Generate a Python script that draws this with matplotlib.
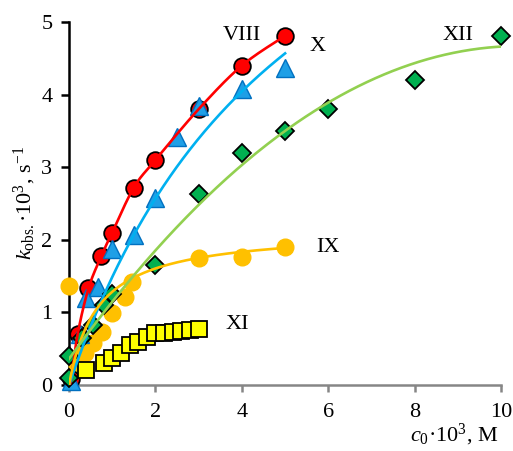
import numpy as np
import matplotlib
matplotlib.use("Agg")
import matplotlib.pyplot as plt

plt.rcParams['font.family'] = ['Liberation Serif', 'DejaVu Serif']
plt.rcParams['mathtext.fontset'] = 'custom'
plt.rcParams['mathtext.rm'] = 'Liberation Serif'
plt.rcParams['mathtext.it'] = 'Liberation Serif:italic'

# VIII - red circles
c_viii = [0.05, 0.2, 0.45, 0.75, 1.0, 1.5, 2.0, 3.0, 4.0, 5.0]
k_viii = [0.08, 0.7, 1.33, 1.78, 2.1, 2.72, 3.1, 3.8, 4.4, 4.81]

# X - blue triangles
c_x = [0.05, 0.25, 0.4, 0.67, 1.0, 1.5, 2.0, 2.5, 3.0, 4.0, 5.0]
k_x = [0.05, 0.7, 1.2, 1.35, 1.88, 2.07, 2.57, 3.42, 3.85, 4.08, 4.36]

# XII - green diamonds
c_xii = [0.0, 0.0, 0.3, 0.55, 0.8, 1.0, 2.0, 3.0, 4.0, 5.0, 6.0, 8.0, 10.0]
k_xii = [0.1, 0.4, 0.65, 0.83, 1.1, 1.25, 1.65, 2.63, 3.2, 3.5, 3.8, 4.2, 4.81]

# IX - orange circles
c_ix = [0.0, 0.18, 0.37, 0.56, 0.76, 1.0, 1.3, 1.46, 3.0, 4.0, 5.0]
k_ix = [1.36, 0.28, 0.44, 0.58, 0.73, 0.99, 1.21, 1.42, 1.75, 1.77, 1.9]

# XI - yellow squares
c_xi = [0.4, 0.8, 1.0, 1.2, 1.4, 1.6, 1.8, 2.0, 2.2, 2.4, 2.6, 2.8, 3.0]
k_xi = [0.21, 0.3, 0.37, 0.44, 0.55, 0.59, 0.66, 0.72, 0.72, 0.73, 0.74, 0.76, 0.77]

# fitted curves (k = kmax*K*c/(1+K*c)), parameters
fit_x = (9.48, 0.186)
fit_ix = (2.14, 1.5)


def hyper(c, p):
    return p[0] * p[1] * c / (1 + p[1] * c)


def smooth(xs, ys, n=30):
    # catmull-rom through the points
    xs = np.asarray([0.0] + list(xs))
    ys = np.asarray([0.0] + list(ys))
    px = np.concatenate([[xs[0]], xs, [xs[-1]]])
    py = np.concatenate([[ys[0]], ys, [ys[-1]]])
    ox, oy = [], []
    t = np.linspace(0, 1, n)
    for i in range(1, len(px) - 2):
        for p, out in ((px, ox), (py, oy)):
            p0, p1, p2, p3 = p[i - 1], p[i], p[i + 1], p[i + 2]
            out.extend(0.5 * (2 * p1 + (-p0 + p2) * t + (2 * p0 - 5 * p1 + 4 * p2 - p3) * t ** 2
                              + (-p0 + 3 * p1 - 3 * p2 + p3) * t ** 3))
    return ox, oy


fig = plt.figure(figsize=(5.13, 4.51), dpi=100)
ax = fig.add_axes([0.1345, 0.1463, 0.8425, 0.8049])

ax.plot(c_ix, k_ix, 'o', ms=12, color='#FFC000', mec='#FFC000', zorder=3, clip_on=False)
ax.plot(c_viii, k_viii, 'o', ms=12, color='#FF0000', mec='black', mew=1.3, zorder=4, clip_on=False)
ax.plot(c_x, k_x, '^', ms=13.5, color='#1E9FE6', mec='#0070C0', mew=1.0, zorder=5, clip_on=False)
ax.plot(c_xii, k_xii, 'D', ms=9.5, color='#00B050', mec='black', mew=1.3, zorder=6, clip_on=False)
ax.plot(c_xi, k_xi, 's', ms=11, color='#FFFF00', mec='black', mew=1.3, zorder=7, clip_on=False)

cc = np.linspace(0, 5, 200)
sx, sy = smooth(c_viii, k_viii)
ax.plot(sx, sy, color='#FF0000', lw=1.9, zorder=8)
ax.plot(cc, hyper(cc, fit_x), color='#00B0F0', lw=1.9, zorder=8)
ax.plot(cc, hyper(cc, fit_ix), color='#FFC000', lw=1.9, zorder=8)
coef = np.polyfit(c_xii, k_xii, 2)
cg = np.linspace(0, 10, 300)
ax.plot(cg, np.polyval(coef, cg), color='#92D050', lw=1.9, zorder=8)

ax.set_xlim(0, 10)
ax.set_ylim(0, 5)
ax.set_xticks([0, 2, 4, 6, 8, 10])
ax.set_yticks([0, 1, 2, 3, 4, 5])
for s in ['top', 'right']:
    ax.spines[s].set_visible(False)
ax.spines['left'].set_color('black')
ax.spines['left'].set_linewidth(1.8)
ax.spines['bottom'].set_color('#868686')
ax.spines['bottom'].set_linewidth(1.8)
ax.tick_params(axis='y', direction='out', length=6, width=1.8, color='black', labelsize=16, pad=6)
ax.tick_params(axis='x', direction='out', length=5, width=1.8, color='#868686', labelsize=16, pad=8)

ax.annotate('VIII', (4.0, 4.82), fontsize=16, ha='center', va='center')
ax.annotate('X', (5.74, 4.66), fontsize=16, ha='center', va='center')
ax.annotate('XII', (9.0, 4.81), fontsize=16, ha='center', va='center')
ax.annotate('IX', (6.0, 1.89), fontsize=16, ha='center', va='center')
ax.annotate('XI', (3.89, 0.84), fontsize=16, ha='center', va='center')

ax.set_ylabel(r'$k_{\mathrm{obs.}}$·10$^3$, s$^{-1}$', fontsize=16, labelpad=2)
fig.text(0.972, 0.035, r'$c_0$·10$^3$, М', fontsize=16, ha='right', va='center')

fig.savefig('out.png', dpi=100)
